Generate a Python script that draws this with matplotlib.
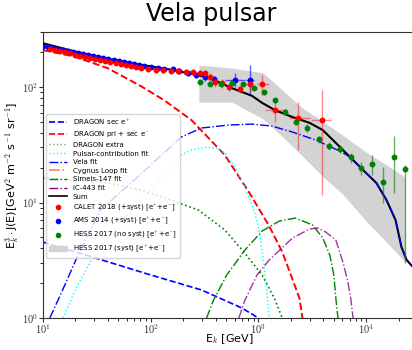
import numpy as np
import matplotlib
matplotlib.use("Agg")
import matplotlib.pyplot as plt
from matplotlib.ticker import FuncFormatter
from matplotlib.lines import Line2D
from matplotlib.patches import Patch

plt.rcParams['mathtext.fontset'] = 'cm'
plt.rcParams['font.family'] = 'DejaVu Sans'

# ---- model curves: E [GeV] vs E^3 J(E) ----
sec_pos_e = [10, 30.7, 100, 296, 702, 1000, 1150]
sec_pos_f = [4.55, 3.31, 2.36, 1.75, 1.22, 1.0, 0.9]

pri_sec_e = [10, 19.1, 39.8, 81, 133, 239, 487, 817, 1257, 1663, 2400, 2560, 2800]
pri_sec_f = [209, 185, 146, 102, 77.1, 51.8, 25.8, 12.3, 6.26, 3.73, 1.49, 1.0, 0.8]

extra_e = [10, 20, 39.8, 81, 155, 277, 487, 733, 1080, 1400, 1663, 1800]
extra_f = [16.3, 15.7, 14.8, 12.8, 10.5, 8.61, 5.78, 3.73, 2.36, 1.49, 1.0, 0.85]

pulsar_e = [15.4, 20, 27.5, 38.1, 52.7, 76, 125, 192, 239, 330, 409, 487, 604, 749,
            909, 1013, 1127, 1204, 1257, 1300]
pulsar_f = [1.0, 1.75, 3.05, 4.73, 6.78, 9.5, 16.3, 25.8, 28.5, 30.2, 29.6, 26.8, 20.3,
            13.6, 8.61, 5.78, 2.88, 1.58, 1.0, 0.85]

vela_e = [11.6, 14.4, 20.8, 34.2, 81, 192, 296, 530, 871, 1340, 2070, 3390, 5690,
          7070, 9350, 12400, 15400, 18700, 21200, 23700, 28700, 32000]
vela_f = [1.0, 1.55, 3.37, 8.61, 17.6, 36.9, 44.2, 46.9, 47.8, 45.9, 40.8, 34.8, 27.9,
          24.8, 19.1, 14.8, 10.5, 7.05, 4.12, 3.18, 2.6, 2.3]

simeis_e = [330, 383, 508, 749, 1080, 1560, 2200, 3180, 3950, 4590, 5000, 5220, 5460, 5600]
simeis_f = [1.0, 1.43, 2.36, 3.88, 5.66, 6.91, 7.34, 6.39, 4.93, 3.51, 2.36, 1.49, 1.0, 0.85]

ic443_e = [658, 749, 970, 1257, 2070, 2980, 3540, 4210, 5220, 6070, 6760, 7210, 7540, 7700]
ic443_f = [1.0, 1.43, 2.36, 3.18, 4.93, 5.9, 6.02, 5.55, 4.73, 3.05, 2.05, 1.43, 1.0, 0.85]

sum_e = [10, 19.1, 39.8, 81, 165, 344, 566, 871, 1080, 1430, 2070, 2980, 3950, 4900,
         7070, 9350, 12400, 15400, 18700, 21200, 23700, 28700, 32000]
sum_f = [240, 205, 176, 156, 140, 121, 98, 84, 73, 63, 55, 49, 42.4, 34.8,
         24.8, 19.1, 14.8, 10.5, 7.05, 4.12, 3.18, 2.6, 2.3]

# ---- data ----
ams_e = [10, 11.1, 12.4, 13.8, 15.4, 17.1, 19.1, 21.3, 23.7, 26.4, 29.4, 32.8, 36.5,
         40.6, 45.3, 50.4, 56.2, 62.6, 69.7, 77.6, 86.5, 100, 117, 133, 162, 184, 224,
         266, 316, 384, 604, 834]
ams_f = [226, 222, 218, 213, 209, 205, 201, 197, 193, 189, 185, 182, 178, 175, 171, 168,
         165, 161, 158, 155, 152, 149, 146, 143, 143, 138, 132, 127, 122, 117, 115, 115]
ams_lo = [220, 216, 212, 207, 203, 199, 195, 191, 187, 183, 179, 176, 172, 169, 165, 162,
          159, 155, 152, 149, 146, 143, 140, 137, 136, 131, 125, 120, 114, 109, 100, 87]
ams_hi = [232, 228, 224, 219, 215, 211, 207, 203, 199, 195, 191, 188, 184, 181, 177, 174,
          171, 167, 164, 161, 158, 155, 152, 149, 150, 145, 139, 134, 130, 125, 132, 155]
ams_emin = [487, 760]
ams_emax = [749, 909]

calet_e = [11.6, 13.0, 14.4, 16.1, 17.9, 20, 22.2, 24.8, 27.5, 30.7, 34.2, 38.1, 42.4,
           47.3, 52.7, 58.6, 65.3, 72.8, 81, 94.4, 112, 130, 155, 180, 214, 249, 284,
           316, 352, 392, 456, 530, 673, 834, 1080, 1430, 2350, 3860]
calet_f = [213, 209, 205, 201, 197, 189, 185, 182, 178, 175, 171, 168, 165, 161, 158, 155,
           152, 149, 146, 143, 140, 140, 138, 138, 135, 135, 132, 132, 122, 110, 108, 100,
           96, 106, 106, 63, 54, 52]
calet_lo = [205, 201, 197, 193, 189, 181, 178, 175, 171, 168, 164, 161, 158, 155, 152, 149,
            146, 143, 140, 134, 132, 131, 129, 129, 126, 126, 123, 123, 112, 101, 99, 92,
            88, 90.5, 85.3, 49.8, 28.5, 11.6]
calet_hi = [221, 217, 213, 209, 205, 197, 192, 189, 185, 182, 178, 175, 172, 167, 164, 161,
            158, 155, 152, 152, 149, 149, 147, 147, 144, 144, 141, 141, 132, 119, 117, 108,
            104, 120, 127, 80.3, 74.1, 94.2]
calet_bin_e = [834, 1080, 1430, 2350, 3860]
calet_bin_f = [106, 106, 63, 54, 52]
calet_emin = [765, 970, 1153, 1935, 3050]
calet_emax = [909, 1257, 1854, 2980, 4690]

hess_e = [284, 352, 446, 566, 717, 909, 1127, 1430, 1776, 2250, 2790, 3620, 4490, 5690,
          7210, 8950, 11350, 14400, 18200, 22700]
hess_f = [110, 106, 106, 108, 106, 98, 90.5, 77.1, 60.8, 49.8, 44.2, 35.5, 30.9, 29.1,
          24.8, 19.9, 21.5, 15.0, 24.8, 19.5]
hess_lo = [106, 102, 102, 104, 102, 94, 86, 73, 57, 46.5, 41, 33, 28.5, 26.9,
           22, 17.3, 17.3, 9.9, 12.1, 3.0]
hess_hi = [114, 110, 110, 112, 110, 102, 95, 81, 65, 53, 47.5, 38, 33.5, 31.5,
           27, 22.4, 25.8, 20.3, 37.7, 21]

band_e = [280, 570, 1100, 1650, 2500, 4000, 6000, 10000, 16000, 23000]
band_lo = [74, 74, 53, 37.7, 25.8, 16.6, 11.9, 6.9, 4.37, 3.05]
band_hi = [155, 146, 133, 95, 67, 50, 38.5, 27.3, 20.7, 16.6]

fig = plt.figure(figsize=(4.12, 3.5), dpi=100)
ax = fig.add_axes([0.104, 0.0914, 0.906, 0.8172])

ax.fill_between(band_e, band_lo, band_hi, color='lightgray', lw=0, zorder=1)

ax.plot(sec_pos_e, sec_pos_f, color='blue', ls='--', lw=1.2, zorder=2)
ax.plot(pri_sec_e, pri_sec_f, color='red', ls='--', lw=1.4, zorder=2)
ax.plot(extra_e, extra_f, color='green', ls=':', lw=1.2, zorder=2)
ax.plot(pulsar_e, pulsar_f, color='cyan', ls=':', lw=1.0, zorder=2)
ax.plot(simeis_e, simeis_f, color='green', ls='-.', lw=1.0, zorder=2)
ax.plot(ic443_e, ic443_f, color='darkmagenta', ls='-.', lw=1.0, zorder=2, alpha=0.8)
ax.plot(sum_e, sum_f, color='black', ls='-', lw=1.5, zorder=3)
ax.plot(vela_e, vela_f, color='blue', ls='-.', lw=1.0, zorder=3)

# error bars
ams_f_arr = np.array(ams_f)
ax.errorbar(ams_e, ams_f, yerr=[ams_f_arr - ams_lo, np.array(ams_hi) - ams_f_arr],
            fmt='none', ecolor='blue', elinewidth=1.0, alpha=0.6, zorder=4)
ax.errorbar(ams_e[-2:], ams_f[-2:],
            xerr=[np.array(ams_e[-2:]) - ams_emin, np.array(ams_emax) - ams_e[-2:]],
            fmt='none', ecolor='blue', elinewidth=1.0, alpha=0.6, zorder=4)
calet_f_arr = np.array(calet_f)
ax.errorbar(calet_e, calet_f, yerr=[calet_f_arr - calet_lo, np.array(calet_hi) - calet_f_arr],
            fmt='none', ecolor='red', elinewidth=1.0, alpha=0.45, zorder=4)
ax.errorbar(calet_bin_e, calet_bin_f,
            xerr=[np.array(calet_bin_e) - calet_emin, np.array(calet_emax) - calet_bin_e],
            fmt='none', ecolor='red', elinewidth=1.0, alpha=0.45, zorder=4)
hess_f_arr = np.array(hess_f)
ax.errorbar(hess_e, hess_f, yerr=[hess_f_arr - hess_lo, np.array(hess_hi) - hess_f_arr],
            fmt='none', ecolor='green', elinewidth=1.0, alpha=0.6, zorder=4)

ax.plot(ams_e, ams_f, 'o', color='blue', ms=3.2, zorder=5)
ax.plot(calet_e, calet_f, 'o', color='red', ms=3.2, zorder=6)
ax.plot(hess_e, hess_f, 'o', color='green', ms=3.2, zorder=6)

ax.set_xscale('log')
ax.set_yscale('log')
ax.set_xlim(10, 2.9e4)
ax.set_ylim(1, 300)

fmt = FuncFormatter(lambda v, p: r'$10^{%d}$' % round(np.log10(v)))
ax.xaxis.set_major_formatter(fmt)
ax.yaxis.set_major_formatter(fmt)
ax.tick_params(labelsize=7.5, colors='#333333', length=3, pad=0.5)
ax.tick_params(which='minor', length=2)
for s in ax.spines.values():
    s.set_color('#333333')

ax.set_xlabel(r'E$_k$ [GeV]', fontsize=8)
ax.xaxis.set_label_coords(0.5, -0.048)
ax.set_ylabel(r'E$_k^{3}\cdot$J(E)[GeV$^2$ m$^{-2}$ s$^{-1}$ sr$^{-1}$]', fontsize=8, labelpad=0)

fig.text(0.512, 0.995, 'Vela pulsar', ha='center', va='top', fontsize=17)

handles = [
    Line2D([], [], color='blue', ls='--', lw=1.2),
    Line2D([], [], color='red', ls='--', lw=1.2),
    Line2D([], [], color='green', ls=':', lw=1.0, alpha=0.6),
    Line2D([], [], color='cyan', ls=':', lw=1.0),
    Line2D([], [], color='blue', ls='-.', lw=1.0),
    Line2D([], [], color='salmon', ls='-.', lw=1.2),
    Line2D([], [], color='green', ls='-.', lw=1.0),
    Line2D([], [], color='darkmagenta', ls='-.', lw=1.0),
    Line2D([], [], color='black', ls='-', lw=1.2),
    Line2D([], [], color='red', ls='none', marker='o', ms=3),
    Line2D([], [], color='blue', ls='none', marker='o', ms=3),
    Line2D([], [], color='green', ls='none', marker='o', ms=3),
    Patch(color='lightgray'),
]
labels = [r'DRAGON sec e$^{+}$', r'DRAGON pri + sec e$^{-}$', 'DRAGON extra',
          'Pulsar-contribution fit', 'Vela fit', 'Cygnus Loop fit', 'Simeis-147 fit',
          'IC-443 fit', 'Sum', r'CALET 2018 (+syst) [e$^{+}$+e$^{-}$]',
          r'AMS 2014 (+syst) [e$^{+}$+e$^{-}$]', r'HESS 2017 (no syst) [e$^{+}$+e$^{-}$]',
          r'HESS 2017 (syst) [e$^{+}$+e$^{-}$]']
ax.legend(handles, labels, loc='upper left', bbox_to_anchor=(0.0, 0.725), fontsize=5.0,
          labelspacing=0.38, handlelength=2.6, borderpad=0.4, framealpha=0.8)

fig.savefig('out.png', dpi=100)
